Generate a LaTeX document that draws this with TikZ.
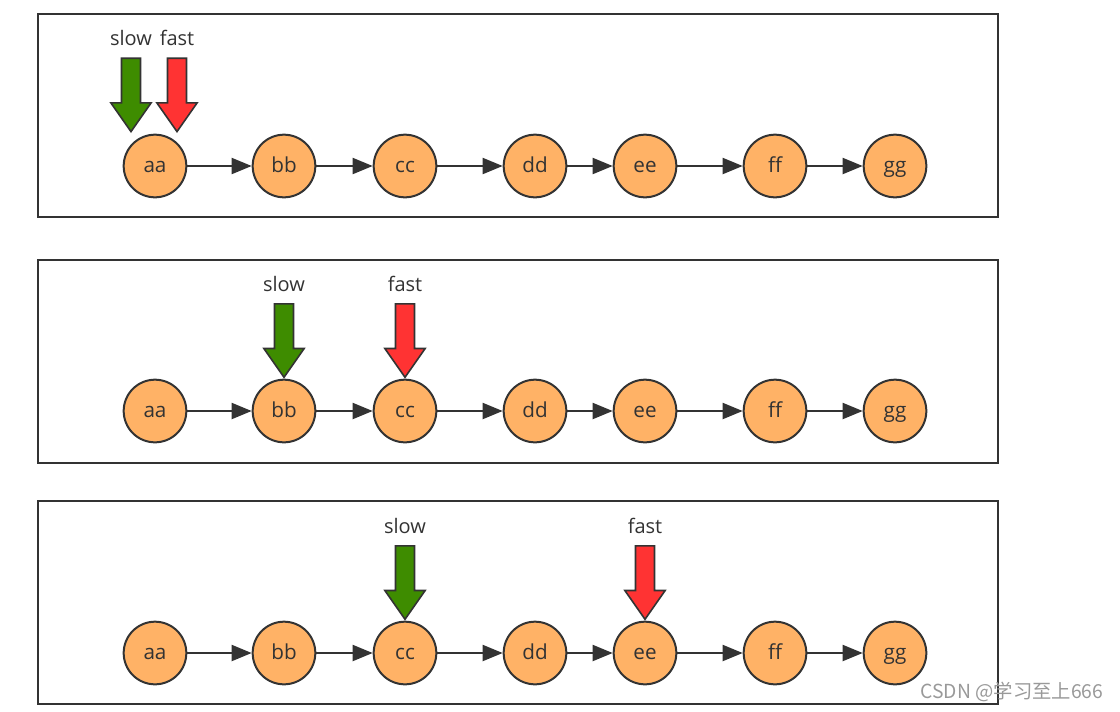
\documentclass[tikz,border=0pt]{standalone}
\usepackage{fontspec}
\setmainfont{Open Sans}
\newfontfamily\cjkfont{Noto Sans CJK SC}
\usetikzlibrary{arrows.meta,shapes.arrows}

\definecolor{nodeorange}{RGB}{255,178,102}
\definecolor{slowgreen}{RGB}{62,140,0}
\definecolor{fastred}{RGB}{255,51,51}
\definecolor{linegray}{RGB}{51,51,51}

\tikzset{
  item/.style={circle, draw=linegray, line width=1.5pt, fill=nodeorange,
    minimum size=47pt, inner sep=0pt, text height=1.9ex, text depth=0pt,
    text=linegray, font=\fontsize{15.5}{15.5}\selectfont},
  link/.style={draw=linegray, line width=1.5pt, -{Triangle[length=15pt,width=12pt]}},
  panel/.style={draw=linegray, line width=1.5pt},
  pointer/.style={single arrow, draw=linegray, line width=1.2pt, inner sep=6.5pt,
    minimum height=55pt, single arrow head extend=8pt,
    single arrow tip angle=70, shape border rotate=270, anchor=tip},
  tag/.style={above=5pt, text=linegray, font=\fontsize{15}{15}\selectfont}
}

\begin{document}
\begin{tikzpicture}[x=0.75pt, y=-0.75pt]
  \useasboundingbox (0,0) rectangle (1120,711);

  % three frames
  \draw[panel] (38,14) rectangle (998,217);
  \draw[panel] (38,260) rectangle (998,463);
  \draw[panel] (38,501) rectangle (998,704);

  % linked lists
  \foreach \r/\y in {1/166,2/411,3/653} {
    \foreach \n/\x in {aa/155,bb/284,cc/405,dd/535,ee/645,ff/775,gg/895}
      \node[item] (\n\r) at (\x,\y) {\n};
    \foreach \a/\b in {aa/bb,bb/cc,cc/dd,dd/ee,ee/ff,ff/gg}
      \draw[link] (\a\r) -- (\b\r);
  }

  % step 1
  \node[pointer, fill=slowgreen] (slow1) at (131,133) {};
  \node[pointer, fill=fastred] (fast1) at (177,133) {};
  \node[tag] at (slow1.tail) {slow};
  \node[tag] at (fast1.tail) {fast};

  % step 2
  \node[pointer, fill=slowgreen] (slow2) at (bb2.north) {};
  \node[pointer, fill=fastred] (fast2) at (cc2.north) {};
  \node[tag] at (slow2.tail) {slow};
  \node[tag] at (fast2.tail) {fast};

  % step 3
  \node[pointer, fill=slowgreen] (slow3) at (cc3.north) {};
  \node[pointer, fill=fastred] (fast3) at (ee3.north) {};
  \node[tag] at (slow3.tail) {slow};
  \node[tag] at (fast3.tail) {fast};

  \node[text=black!40, font=\cjkfont\fontsize{14.5}{14.5}\selectfont] (mark) at (1012,692) {CSDN @学习至上666};
\end{tikzpicture}
\end{document}
